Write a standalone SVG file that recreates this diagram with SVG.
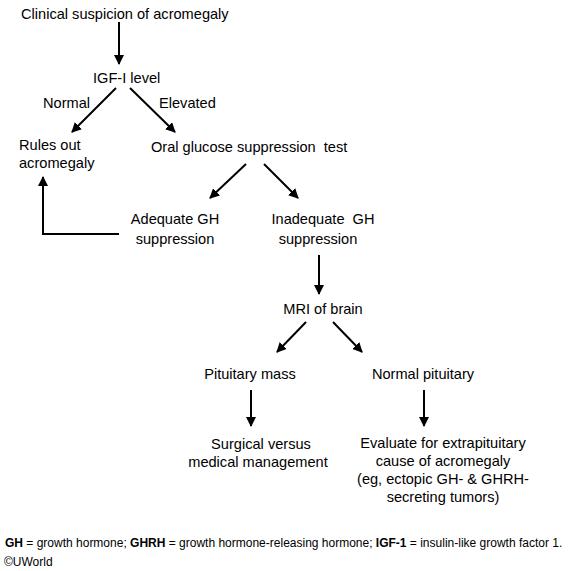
<svg xmlns="http://www.w3.org/2000/svg" width="575" height="571" viewBox="0 0 575 571">
<style>
text{font-family:"Liberation Sans",Arial,sans-serif;font-size:14.6px;fill:#000}
.c{text-anchor:middle}
.f{font-size:12px}
.b{font-weight:bold}
line,polyline{stroke:#000;stroke-width:2;fill:none}
</style>
<defs>
<marker id="ah" viewBox="0 0 10 10" refX="9" refY="5" markerWidth="5" markerHeight="5" orient="auto" markerUnits="strokeWidth">
<path d="M0,0 L10,5 L0,10 z" fill="#000"/>
</marker>
</defs>
<rect width="575" height="571" fill="#fff"/>
<g id="connectors">
<line x1="119" y1="22" x2="119" y2="64" marker-end="url(#ah)"/>
<line x1="116" y1="88" x2="72" y2="132" marker-end="url(#ah)"/>
<line x1="130" y1="88" x2="175" y2="132" marker-end="url(#ah)"/>
<line x1="246" y1="164" x2="210" y2="198" marker-end="url(#ah)"/>
<line x1="264" y1="164" x2="298" y2="198" marker-end="url(#ah)"/>
<polyline points="119,234 43,234 43,177" marker-end="url(#ah)"/>
<line x1="319" y1="255" x2="319" y2="294" marker-end="url(#ah)"/>
<line x1="306" y1="322" x2="277" y2="352" marker-end="url(#ah)"/>
<line x1="333" y1="322" x2="362" y2="352" marker-end="url(#ah)"/>
<line x1="251" y1="390" x2="251" y2="426" marker-end="url(#ah)"/>
<line x1="424" y1="390" x2="424" y2="426" marker-end="url(#ah)"/>
<text x="43" y="108">Normal</text>
<text x="159" y="108">Elevated</text>
</g>
<g id="n1"><text x="21" y="19">Clinical suspicion of acromegaly</text></g>
<g id="n2"><text x="93" y="83">IGF-I level</text></g>
<g id="n3"><text x="19" y="150">Rules out</text><text x="19" y="168">acromegaly</text></g>
<g id="n4"><text x="151" y="152">Oral glucose suppression&#160; test</text></g>
<g id="n5"><text class="c" x="175" y="224">Adequate GH</text><text class="c" x="175" y="244">suppression</text></g>
<g id="n6"><text class="c" x="323" y="224">Inadequate&#160; GH</text><text class="c" x="318" y="244">suppression</text></g>
<g id="n7"><text class="c" x="323" y="314">MRI of brain</text></g>
<g id="n8"><text class="c" x="250" y="379">Pituitary mass</text></g>
<g id="n9"><text class="c" x="423" y="379">Normal pituitary</text></g>
<g id="n10"><text class="c" x="261" y="449">Surgical versus</text><text class="c" x="258" y="467">medical management</text></g>
<g id="n11"><text class="c" x="443" y="448">Evaluate for extrapituitary</text><text class="c" x="443" y="466">cause of acromegaly</text><text class="c" x="443" y="484">(eg, ectopic GH- &amp; GHRH-</text><text class="c" x="443" y="502">secreting tumors)</text></g>
<g id="footer">
<text class="f" x="5" y="547"><tspan class="b">GH</tspan> = growth hormone; <tspan class="b">GHRH</tspan> = growth hormone-releasing hormone; <tspan class="b">IGF-1</tspan> = insulin-like growth factor 1.</text>
<text class="f" x="4" y="566">©UWorld</text>
</g>
</svg>
